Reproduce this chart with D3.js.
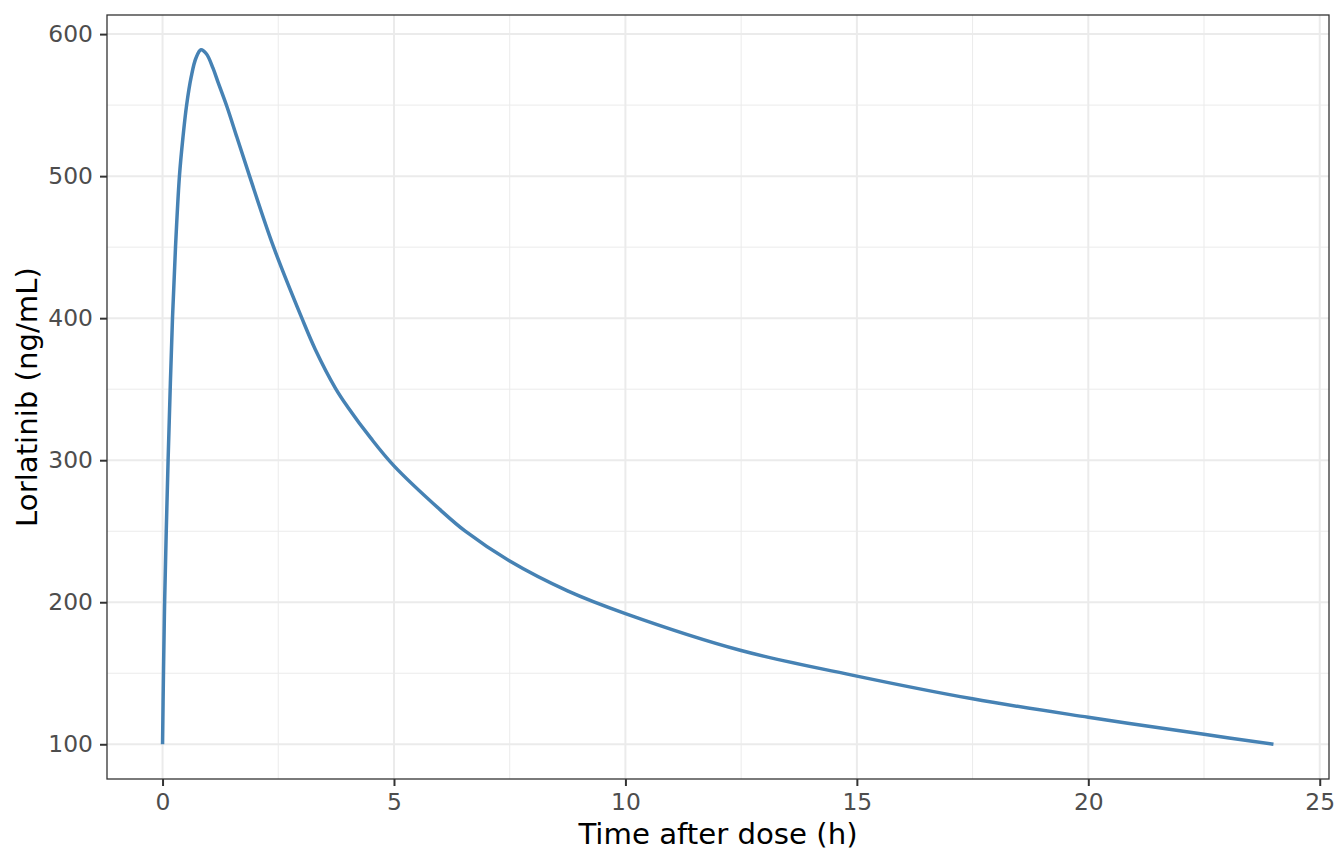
<!DOCTYPE html>
<html>
<head>
<meta charset="utf-8">
<script src="https://cdn.jsdelivr.net/npm/d3@7"></script>
<style>
  body { margin: 0; background: #ffffff; }
  svg { display: block; }
</style>
</head>
<body>
<script>
// values
var timeHours = [0, 0.02, 0.045, 0.08, 0.12, 0.165, 0.215, 0.28, 0.365, 0.44,
                 0.52, 0.62, 0.72, 0.83, 0.95, 1.09, 1.2, 1.39, 1.6, 1.88,
                 2.4, 3.01, 3.3, 3.73, 4, 4.5, 5, 6, 6.54, 7.5,
                 8.75, 10, 12.5, 15, 17.5, 20, 22.5, 24];
var concentration = [100, 150, 200, 250, 300, 350, 400, 450, 500, 527,
                     550, 570, 583, 589, 586, 576, 566, 549, 528, 500,
                     450, 400, 378, 351, 337.5, 315.5, 296, 265, 250, 229,
                     208, 192, 166, 148, 132, 119, 107, 100];
var xTicks = [0, 5, 10, 15, 20, 25];
var xMinor = [2.5, 7.5, 12.5, 17.5, 22.5];
var yTicks = [100, 200, 300, 400, 500, 600];
var yMinor = [150, 250, 350, 450, 550];
var xTitle = "Time after dose (h)";
var yTitle = "Lorlatinib (ng/mL)";

var width = 1344;
var height = 864;
var margin = { top: 15, right: 15, bottom: 85, left: 107 };
var panelW = width - margin.left - margin.right;
var panelH = height - margin.top - margin.bottom;

var points = timeHours.map(function (t, i) {
  return { t: t, c: concentration[i] };
});

// ggplot style 5% expansion
var xExt = d3.extent(timeHours);
var yExt = d3.extent(concentration);
var xPad = (xExt[1] - xExt[0]) * 0.05;
var yPad = (yExt[1] - yExt[0]) * 0.05;

var x = d3.scaleLinear()
  .domain([xExt[0] - xPad, xExt[1] + xPad])
  .range([0, panelW]);
var y = d3.scaleLinear()
  .domain([yExt[0] - yPad, yExt[1] + yPad])
  .range([panelH, 0]);

var svg = d3.select("body")
  .append("svg")
  .attr("width", width)
  .attr("height", height)
  .style("font-family", "'DejaVu Sans', sans-serif");

svg.append("rect")
  .attr("width", width)
  .attr("height", height)
  .attr("fill", "#ffffff");

var panel = svg.append("g")
  .attr("transform", "translate(" + margin.left + "," + margin.top + ")");

// grid
panel.selectAll("line.xminor")
  .data(xMinor)
  .enter()
  .append("line")
  .attr("class", "xminor")
  .attr("x1", function (d) { return x(d); })
  .attr("x2", function (d) { return x(d); })
  .attr("y1", 0)
  .attr("y2", panelH)
  .attr("stroke", "#ebebeb")
  .attr("stroke-width", 1);

panel.selectAll("line.yminor")
  .data(yMinor)
  .enter()
  .append("line")
  .attr("class", "yminor")
  .attr("x1", 0)
  .attr("x2", panelW)
  .attr("y1", function (d) { return y(d); })
  .attr("y2", function (d) { return y(d); })
  .attr("stroke", "#ebebeb")
  .attr("stroke-width", 1);

panel.selectAll("line.xmajor")
  .data(xTicks)
  .enter()
  .append("line")
  .attr("class", "xmajor")
  .attr("x1", function (d) { return x(d); })
  .attr("x2", function (d) { return x(d); })
  .attr("y1", 0)
  .attr("y2", panelH)
  .attr("stroke", "#ebebeb")
  .attr("stroke-width", 2);

panel.selectAll("line.ymajor")
  .data(yTicks)
  .enter()
  .append("line")
  .attr("class", "ymajor")
  .attr("x1", 0)
  .attr("x2", panelW)
  .attr("y1", function (d) { return y(d); })
  .attr("y2", function (d) { return y(d); })
  .attr("stroke", "#ebebeb")
  .attr("stroke-width", 2);

// concentration curve
var line = d3.line()
  .x(function (d) { return x(d.t); })
  .y(function (d) { return y(d.c); })
  .curve(d3.curveCatmullRom.alpha(0.5));

panel.append("path")
  .datum(points)
  .attr("d", line)
  .attr("fill", "none")
  .attr("stroke", "#4682b4")
  .attr("stroke-width", 3.5)
  .attr("stroke-linejoin", "round");

panel.append("rect")
  .attr("x", 0)
  .attr("y", 0)
  .attr("width", panelW)
  .attr("height", panelH)
  .attr("fill", "none")
  .attr("stroke", "#333333")
  .attr("stroke-width", 1.3);

// axes
var xAxis = d3.axisBottom(x)
  .tickValues(xTicks)
  .tickFormat(d3.format("d"))
  .tickSize(7)
  .tickPadding(7.4);
var yAxis = d3.axisLeft(y)
  .tickValues(yTicks)
  .tickFormat(d3.format("d"))
  .tickSize(7)
  .tickPadding(7);

var gx = panel.append("g")
  .attr("transform", "translate(0," + panelH + ")")
  .call(xAxis);
var gy = panel.append("g")
  .call(yAxis);

[gx, gy].forEach(function (g) {
  g.select(".domain").remove();
  g.selectAll(".tick line")
    .attr("stroke", "#333333")
    .attr("stroke-width", 2);
  g.selectAll(".tick text")
    .attr("fill", "#4d4d4d")
    .style("font-size", "23.4px")
    .style("font-family", "'DejaVu Sans', sans-serif");
});

// titles
svg.append("text")
  .text(xTitle)
  .attr("x", margin.left + panelW / 2)
  .attr("y", 844)
  .attr("text-anchor", "middle")
  .attr("fill", "#000000")
  .style("font-size", "29.2px");

svg.append("text")
  .text(yTitle)
  .attr("transform", "translate(37," + (margin.top + panelH / 2) + ") rotate(-90)")
  .attr("text-anchor", "middle")
  .attr("fill", "#000000")
  .style("font-size", "29.2px");
</script>
</body>
</html>
